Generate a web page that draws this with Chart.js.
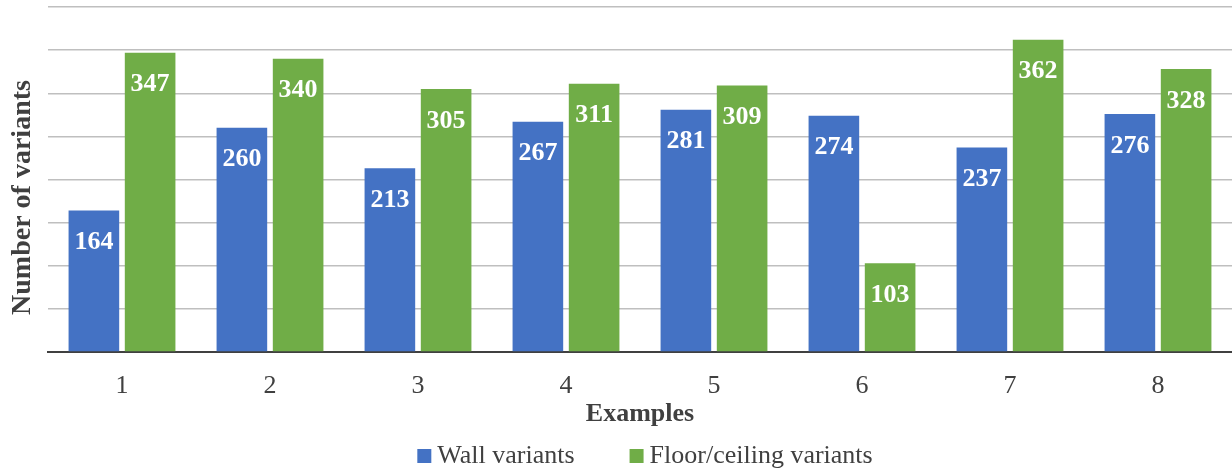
<!DOCTYPE html>
<html>
<head>
<meta charset="utf-8">
<script src="https://cdn.jsdelivr.net/npm/chart.js@4.4.1/dist/chart.umd.min.js"></script>
<style>
  html, body { margin: 0; padding: 0; background: #fff; }
  #wrap { width: 1232px; height: 472px; }
</style>
</head>
<body>
<div id="wrap"><canvas id="chart"></canvas></div>
<script>
var examples = ["1", "2", "3", "4", "5", "6", "7", "8"];
var wallVariants = [164, 260, 213, 267, 281, 274, 237, 276];
var floorVariants = [347, 340, 305, 311, 309, 103, 362, 328];
var seriesNames = ["Wall variants", "Floor/ceiling variants"];
var seriesColors = ["#4472C4", "#70AD47"];
var yTitle = "Number of variants";
var xTitle = "Examples";

var FONT = "'Liberation Serif', 'Times New Roman', serif";
var TEXT = "#404040";

// values printed inside the top of each bar
var barLabels = {
	id: "barLabels",
	afterDatasetsDraw: function(chart) {
		var ctx = chart.ctx;
		ctx.save();
		ctx.font = "bold 26px " + FONT;
		ctx.fillStyle = "#ffffff";
		ctx.textAlign = "center";
		ctx.textBaseline = "middle";
		chart.data.datasets.forEach(function(ds, i) {
			chart.getDatasetMeta(i).data.forEach(function(bar, j) {
				ctx.fillText(ds.data[j], bar.x, bar.y + 32);
			});
		});
		ctx.restore();
	}
};

// y title (sits a bit below the plot centre, like the original) and the legend row
var extras = {
	id: "extras",
	afterDraw: function(chart) {
		var ctx = chart.ctx, ca = chart.chartArea;
		ctx.save();
		ctx.fillStyle = TEXT;
		ctx.font = "bold 28px " + FONT;
		ctx.textAlign = "center";
		ctx.textBaseline = "middle";
		ctx.translate(23, (ca.top + ca.bottom) / 2 + 18);
		ctx.rotate(-Math.PI / 2);
		ctx.fillText(yTitle, 0, 0);
		ctx.restore();

		ctx.save();
		ctx.font = "26px " + FONT;
		ctx.textBaseline = "middle";
		var box = 14, gapText = 6, gapItem = 55;
		var widths = chart.data.datasets.map(function(ds) { return ctx.measureText(ds.label).width; });
		var total = widths.reduce(function(a, w) { return a + box + gapText + w; }, 0) + gapItem * (widths.length - 1);
		var x = (ca.left + ca.right) / 2 + 5 - total / 2;
		var y = 456;
		chart.data.datasets.forEach(function(ds, i) {
			ctx.fillStyle = ds.backgroundColor;
			ctx.fillRect(x, y - box / 2, box, box);
			ctx.fillStyle = TEXT;
			ctx.fillText(ds.label, x + box + gapText, y);
			x += box + gapText + widths[i] + gapItem;
		});
		ctx.restore();
	}
};

var ctx = document.getElementById("chart").getContext("2d");
var chart = new Chart(ctx, {
	type: "bar",
	data: {
		labels: examples,
		datasets: [
			{ label: seriesNames[0], data: wallVariants, backgroundColor: seriesColors[0] },
			{ label: seriesNames[1], data: floorVariants, backgroundColor: seriesColors[1] }
		]
	},
	options: {
		responsive: true,
		maintainAspectRatio: false,
		animation: false,
		layout: { padding: { top: 7, right: 0, bottom: 42, left: 0 } },
		datasets: { bar: { categoryPercentage: 0.76, barPercentage: 0.9 } },
		plugins: {
			legend: { display: false },
			tooltip: { enabled: false }
		},
		scales: {
			x: {
				grid: { display: false, drawTicks: false },
				border: { color: "#404040", width: 2 },
				ticks: { font: { family: FONT, size: 26 }, color: TEXT, padding: 19 },
				title: {
					display: true,
					text: xTitle,
					font: { family: FONT, size: 26, weight: "bold" },
					color: TEXT,
					padding: { top: 0, bottom: 0 }
				},
				afterFit: function(s) { s.height = 78; }
			},
			y: {
				min: 0, max: 400,
				ticks: { display: false, stepSize: 50 },
				grid: { color: "#bfbfbf", lineWidth: 1.5, drawTicks: false },
				border: { display: false },
				afterFit: function(s) { s.width = 48; }
			}
		}
	},
	plugins: [barLabels, extras]
});
</script>
</body>
</html>
